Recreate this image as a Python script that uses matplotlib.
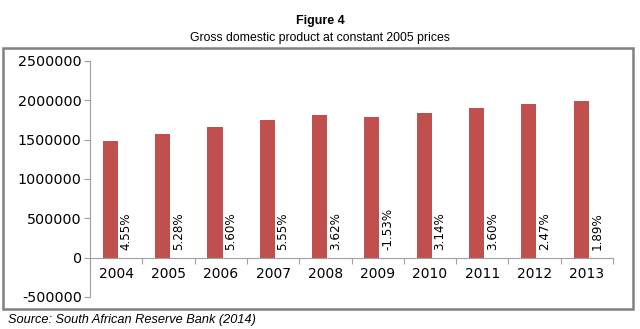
import matplotlib.pyplot as plt
from matplotlib.patches import Rectangle
import numpy as np

# data
years = ['2004', '2005', '2006', '2007', '2008', '2009', '2010', '2011', '2012', '2013']
gdp = [1488000, 1571000, 1659000, 1751000, 1814000, 1786000, 1842000, 1908000, 1955000, 1992000]
growth = ['4.55%', '5.28%', '5.60%', '5.55%', '3.62%', '-1.53%', '3.14%', '3.60%', '2.47%', '1.89%']

x = np.arange(len(years))
bar_width = 0.29

fig = plt.figure(figsize=(6.4, 3.29), dpi=100)

# outer frame around the chart
fig.patches.append(Rectangle((3 / 640, 1 - 309 / 329), 630 / 640, 261 / 329,
                             transform=fig.transFigure, fill=False,
                             edgecolor='#808080', linewidth=1.8))

ax = fig.add_axes([90 / 640, 1 - 297 / 329, 523 / 640, 236 / 329])

ax.bar(x - 0.11, gdp, width=bar_width, color='#c0504d')

for i, lab in enumerate(growth):
    ax.text(x[i] + 0.19, 100000, lab, rotation=90, ha='center', va='bottom',
            fontsize=9.5, family='DejaVu Sans', fontstretch='condensed')

ax.set_ylim(-500000, 2500000)
ax.set_yticks(np.arange(-500000, 2500001, 500000))
ax.set_yticklabels([str(v) for v in range(-500000, 2500001, 500000)],
                   fontsize=10.3, family='DejaVu Sans')
ax.set_xlim(-0.5, len(years) - 0.5)

# category separators as major ticks, labels on minor ticks
ax.set_xticks(np.arange(-0.5, len(years), 1.0))
ax.set_xticklabels([])
ax.set_xticks(x, minor=True)
ax.set_xticklabels(years, minor=True, fontsize=10.3, family='DejaVu Sans')
ax.tick_params(axis='x', which='major', length=4, color='#a0a0a0', direction='out')
ax.tick_params(axis='x', which='minor', length=0, pad=7)
ax.tick_params(axis='y', length=4, color='#a0a0a0', pad=2)

ax.spines['top'].set_visible(False)
ax.spines['right'].set_visible(False)
ax.spines['bottom'].set_position(('data', 0))
ax.spines['bottom'].set_color('#a0a0a0')
ax.spines['left'].set_color('#a0a0a0')

fig.text(0.5, 1 - 21 / 329, 'Figure 4', ha='center', va='center',
         fontsize=9, fontweight='bold', family='Liberation Sans')
fig.text(0.5, 1 - 38 / 329, 'Gross domestic product at constant 2005 prices',
         ha='center', va='center', fontsize=8.8, family='Liberation Sans')
fig.text(8 / 640, 1 - 320 / 329, 'Source: South African Reserve Bank (2014)',
         ha='left', va='center', fontsize=9.2, style='italic', family='Liberation Sans')

plt.savefig('out.png', dpi=100)
plt.close()
